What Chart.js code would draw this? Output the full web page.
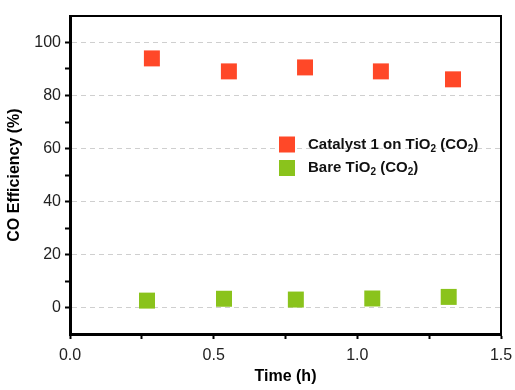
<!DOCTYPE html>
<html lang="en">
<head>
  <meta charset="UTF-8" />
  <title>CO Efficiency vs Time</title>
  <script src="https://cdn.jsdelivr.net/npm/chart.js"></script>
  <style>
    html, body { margin: 0; padding: 0; background: #fff; }
    #wrap { width: 515px; height: 390px; }
  </style>
</head>
<body>
  <div id="wrap"><canvas id="effChart" width="515" height="390"></canvas></div>

  <script>
    // data
    const catalystTime = [0.285, 0.553, 0.818, 1.082, 1.333];
    const catalystEff = [94.0, 89.1, 90.6, 89.1, 86.1];
    const bareTime = [0.268, 0.536, 0.786, 1.052, 1.318];
    const bareEff = [2.6, 3.3, 3.0, 3.4, 4.0];
    const seriesLabels = ['Catalyst 1 on TiO\u2082 (CO\u2082)', 'Bare TiO\u2082 (CO\u2082)'];
    const xTicks = [0, 0.5, 1.0, 1.5];
    const yTicks = [0, 20, 40, 60, 80, 100];

    const red = '#FF4828';
    const green = '#8AC31C';
    const font = 'Arial, "Liberation Sans", sans-serif';

    const toPoints = (xs, ys) => xs.map((x, i) => ({ x: x, y: ys[i] }));

    // draws text, rendering the unicode subscript 2 as a small lowered digit
    function drawSubText(ctx, text, x, y, size) {
      let cx = x;
      for (const ch of text) {
        if (ch === '\u2082') {
          ctx.font = 'bold ' + Math.round(size * 0.66) + 'px ' + font;
          ctx.fillText('2', cx, y + size * 0.3);
          cx += ctx.measureText('2').width;
        } else {
          ctx.font = 'bold ' + size + 'px ' + font;
          ctx.fillText(ch, cx, y);
          cx += ctx.measureText(ch).width;
        }
      }
    }

    // frame on top/right + legend inside the plot
    const framePlugin = {
      id: 'frame',
      afterDraw(chart) {
        const { ctx, chartArea: a } = chart;
        ctx.save();
        ctx.strokeStyle = '#000';
        ctx.lineWidth = 2;
        ctx.beginPath();
        ctx.moveTo(a.left, a.top);
        ctx.lineTo(a.right, a.top);
        ctx.lineTo(a.right, a.bottom);
        ctx.stroke();

        ctx.textBaseline = 'middle';
        chart.data.datasets.forEach((ds, i) => {
          const bx = a.left + 209;
          const cy = a.top + 128.5 + i * 23.5;
          ctx.fillStyle = ds.backgroundColor;
          ctx.fillRect(bx, cy - 8, 16, 16);
          ctx.fillStyle = '#111';
          drawSubText(ctx, ds.label, bx + 29, cy, 15);
        });
        ctx.restore();
      }
    };

    const ctx = document.getElementById('effChart').getContext('2d');
    const effChart = new Chart(ctx, {
      type: 'scatter',
      data: {
        datasets: [{
          label: seriesLabels[0],
          data: toPoints(catalystTime, catalystEff),
          backgroundColor: red,
          borderColor: red,
          pointStyle: 'rect',
          pointRadius: 11.3,
          pointHoverRadius: 11.3,
          borderWidth: 0
        }, {
          label: seriesLabels[1],
          data: toPoints(bareTime, bareEff),
          backgroundColor: green,
          borderColor: green,
          pointStyle: 'rect',
          pointRadius: 11.3,
          pointHoverRadius: 11.3,
          borderWidth: 0
        }]
      },
      options: {
        responsive: false,
        animation: false,
        events: [],
        layout: { padding: { top: 16, right: 14, left: 0, bottom: 0 } },
        plugins: {
          legend: { display: false },
          tooltip: { enabled: false }
        },
        scales: {
          x: {
            type: 'linear',
            min: 0,
            max: 1.5,
            afterFit: (s) => { s.height = 56; s.paddingLeft = 0; s.paddingRight = 0; },
            afterBuildTicks: (s) => {
              const t = [];
              for (let v = 0; v <= 1.5001; v += 0.25) t.push({ value: Math.round(v * 100) / 100 });
              s.ticks = t;
            },
            ticks: {
              autoSkip: false,
              maxRotation: 0,
              padding: 7,
              color: '#222',
              font: { family: font, size: 16 },
              callback: (v) => xTicks.includes(v) ? v.toFixed(1) : ''
            },
            grid: {
              drawOnChartArea: false,
              drawTicks: true,
              tickLength: 5,
              tickWidth: 2,
              tickColor: '#000'
            },
            border: { display: true, color: '#000', width: 3 },
            title: {
              display: true,
              text: 'Time (h)',
              color: '#000',
              font: { family: font, size: 16, weight: 'bold' },
              padding: { top: 12 }
            }
          },
          y: {
            min: -10,
            max: 110,
            afterFit: (s) => { s.width = 70; s.paddingTop = 0; s.paddingBottom = 0; },
            afterBuildTicks: (s) => {
              const t = [];
              for (let v = -10; v <= 110; v += 10) t.push({ value: v });
              s.ticks = t;
            },
            ticks: {
              autoSkip: false,
              padding: 4,
              color: '#222',
              font: { family: font, size: 16 },
              callback: (v) => yTicks.includes(v) ? String(v) : ''
            },
            grid: {
              drawTicks: true,
              tickLength: 5,
              tickWidth: 2,
              tickColor: (c) => (c.tick && (c.tick.value === -10 || c.tick.value === 110)) ? 'rgba(0,0,0,0)' : '#000',
              lineWidth: 1,
              color: (c) => (c.tick && yTicks.includes(c.tick.value)) ? '#cfcfcf' : 'rgba(0,0,0,0)'
            },
            border: { display: true, color: '#000', width: 3, dash: [5, 4] },
            title: {
              display: true,
              text: 'CO Efficiency (%)',
              color: '#000',
              font: { family: font, size: 16, weight: 'bold' },
              padding: { top: 5, bottom: 4 }
            }
          }
        }
      },
      plugins: [framePlugin]
    });
  </script>
</body>
</html>
